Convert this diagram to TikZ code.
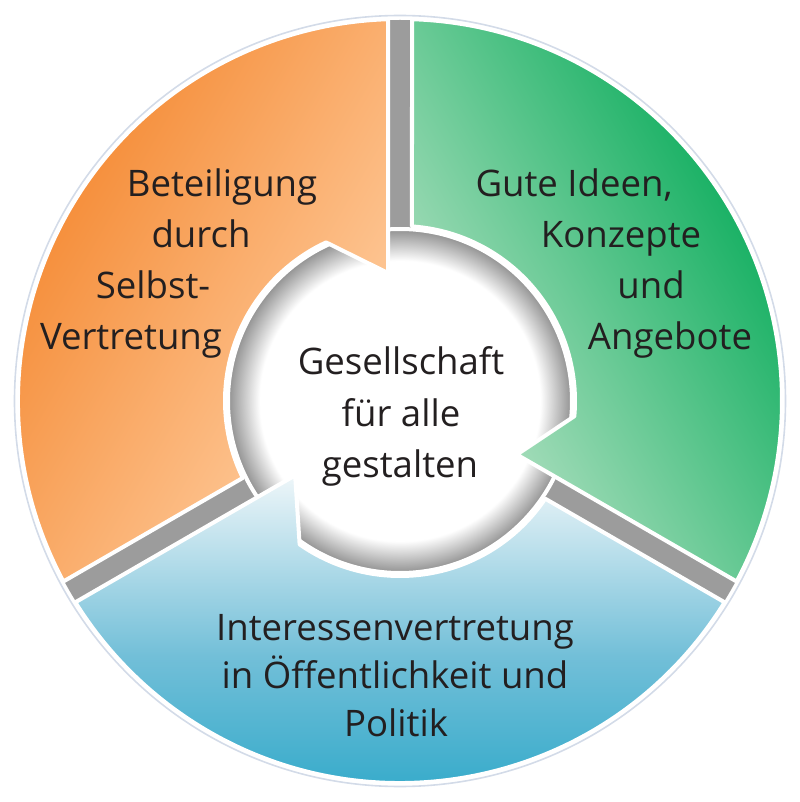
\documentclass[tikz,border=0pt]{standalone}
\usepackage{fontspec}
\setmainfont{Open Sans}
\definecolor{orangedark}{HTML}{F37F22}
\definecolor{orangelight}{HTML}{FFD0A4}
\definecolor{greendark}{HTML}{00A955}
\definecolor{greenlight}{HTML}{C0E5CB}
\definecolor{bluedark}{HTML}{22A4C6}
\definecolor{bluemid}{HTML}{72BFD8}
\definecolor{bluelight}{HTML}{EEF6F9}
\definecolor{gapgrey}{HTML}{9C9C9C}
\definecolor{rimblue}{HTML}{D3DBE8}
\definecolor{txt}{HTML}{231F20}
\pgfdeclareradialshading{hubrim}{\pgfpoint{0bp}{0bp}}{color(0bp)=(white); color(20.5bp)=(white); color(25bp)=(black!42); color(50bp)=(black!42)}
\newcommand{\segpath}{(91.8:382) -- (-12,128) -- (115:175) arc[start angle=115, end angle=206.07, radius=175] -- (208.2:382) arc[start angle=208.2, end angle=91.8, radius=382] -- cycle}

\begin{document}
\begin{tikzpicture}[x=0.025cm,y=0.025cm,line join=round,
    seg/.style={draw=white, line width=0.1cm},
    lbl/.style={text=txt, font=\fontsize{26}{34}\selectfont, inner sep=0pt, anchor=base}]
  \useasboundingbox (-400,-401) rectangle (400,401);
  \draw [rimblue, line width=0.04cm] (0,0) circle (385.5);
  \fill [gapgrey] (0,0) circle (381);
  \shade [shading=hubrim] (0,0) circle (171);
  \draw [white, line width=0.1cm] (0,0) circle (172);

  \shade [seg, top color=orangelight, bottom color=orangedark, shading angle=240] \segpath;
  \shade [seg, rotate=-120, top color=greenlight, bottom color=greendark, shading angle=120] \segpath;
  \shade [seg, rotate=120, top color=bluelight, bottom color=bluedark, middle color=bluemid] \segpath;

  \node [lbl] (beteil) at (-178,204) {Beteiligung};
  \node [lbl] (durch) at (-199,153) {durch};
  \node [lbl] (selbst) at (-247,102) {Selbst-};
  \node [lbl] (vertr) at (-269,51) {Vertretung};

  \node [lbl] (gute) at (174,204) {Gute Ideen,};
  \node [lbl] (konz) at (221,153) {Konzepte};
  \node [lbl] (und) at (251,102) {und};
  \node [lbl] (angeb) at (270,51) {Angebote};

  \node [lbl] (ges) at (1,26) {Gesellschaft};
  \node [lbl] (fuer) at (1,-25) {für alle};
  \node [lbl] (gest) at (0,-76) {gestalten};

  \node [lbl] (inter) at (-5,-239) {Interessenvertretung};
  \node [lbl] (oeff) at (-5,-287) {in Öffentlichkeit und};
  \node [lbl] (pol) at (-4,-335) {Politik};
\end{tikzpicture}
\end{document}
